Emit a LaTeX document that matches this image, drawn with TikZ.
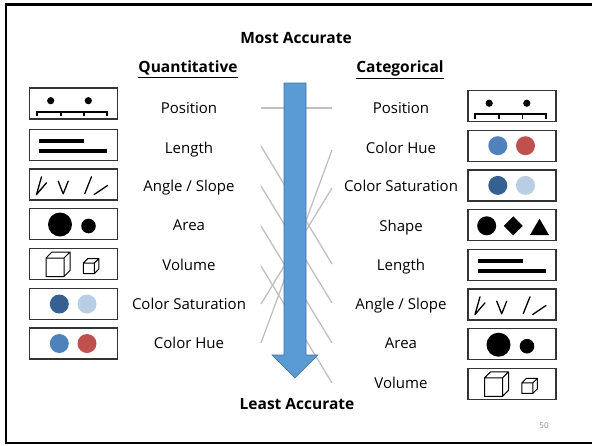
\documentclass[tikz,border=0pt]{standalone}
\usepackage{fontspec}
\setmainfont{Open Sans}
\usetikzlibrary{positioning}
\definecolor{arrowblue}{HTML}{5B9BD5}
\definecolor{arrowedge}{HTML}{41719C}
\definecolor{mapgray}{HTML}{BFBFBF}
\definecolor{huered}{HTML}{C0504D}
\definecolor{hueblue}{HTML}{4F81BD}
\definecolor{satdark}{HTML}{376092}
\definecolor{satlight}{HTML}{B9CDE5}

\begin{document}
\begin{tikzpicture}[x=1pt,y=-1pt,
  iconbox/.style={draw=black!80,line width=1.2pt,minimum width=88pt,minimum height=31pt,inner sep=0pt},
  lab/.style={font=\fontsize{15}{17}\selectfont,anchor=base,inner sep=0pt},
  head/.style={font=\bfseries\fontsize{15.5}{17}\selectfont,anchor=base,inner sep=0pt},
  map/.style={mapgray,line width=1.3pt},
  posicon/.pic={
    \fill (-22.8,-2.8) circle (3.6) (14.8,-2.8) circle (3.6);
    \draw[line width=1.8pt] (-36.8,12.5)--(-36.8,8.2)--(33.8,8.2)--(33.8,12.5);
    \draw[line width=1.8pt] (-12.8,8.2)--(-12.8,12.5) (10.5,8.2)--(10.5,12.5);},
  lenicon/.pic={
    \fill (-34.5,-5.7) rectangle (10.5,-1.7);
    \fill (-34.5,3.8) rectangle (33.8,7.8);},
  angicon/.pic={
    \draw[line width=1.3pt,line cap=round,line join=round]
      (-32,-7.7)--(-37,10)--(-27,-1.7)
      (-15.3,-3.3)--(-10.3,9.3)--(-5.3,-3.3)
      (11.3,9)--(18,-7.7)
      (20.7,10)--(34,1);},
  areaicon/.pic={
    \fill (-13.5,0.5) circle (12) (15,2) circle (7.3);},
  volicon/.pic={
    \draw[line width=1pt,line join=round]
      (-27.5,-6) rectangle (-9.5,12.5)
      (-27.5,-6)--(-21.5,-12)--(-3.5,-12)--(-9.5,-6)
      (-3.5,-12)--(-3.5,6.5)--(-9.5,12.5);
    \draw[line width=1pt,line join=round]
      (9.8,-1) rectangle (20.8,9.5)
      (9.8,-1)--(14.3,-5.5)--(25.3,-5.5)--(20.8,-1)
      (25.3,-5.5)--(25.3,5)--(20.8,9.5);},
  saticon/.pic={
    \fill[satdark] (-14.2,0) circle (9.5);
    \fill[satlight] (13.5,0) circle (9.5);},
  hueicon/.pic={
    \fill[hueblue] (-14.2,0) circle (9.5);
    \fill[huered] (13.5,0) circle (9.5);},
  shapeicon/.pic={
    \fill (-25.3,0.7) circle (9.5);
    \fill (1.3,-8.8)--(10.8,0.7)--(1.3,10.2)--(-8.2,0.7)--cycle;
    \fill (27.5,-6.5)--(37,10)--(18,10)--cycle;}]

\useasboundingbox (0,0) rectangle (592,445);
% slide frame
\draw[line width=2.4pt] (6,4.3) rectangle (596,442.7);

\node[head] (most) at (296,43) {Most Accurate};
\node[head] (quant) at (188,72.7) {\underline{Quantitative}};
\node[head] (categ) at (400,72.7) {\underline{Categorical}};
\node[head] (least) at (297,409) {Least Accurate};
\node[anchor=base,inner sep=0pt,font=\fontsize{8}{9}\selectfont,text=black!45] (pagenum) at (544,428.5) {50};

% quantitative column
\foreach \i/\y/\ly/\txt/\ic in {1/103.5/108/Position/posicon, 2/145/148/Length/lenicon,
    3/184.5/186/{Angle / Slope}/angicon, 4/224/225/Area/areaicon, 5/264/265/Volume/volicon,
    6/304/304/Color Saturation/saticon, 7/343.5/343/Color Hue/hueicon}{
  \node[iconbox] (qbox\i) at (73.5,\y) {};
  \pic at (qbox\i.center) {\ic};
  \node[lab] (qlab\i) at (189,\ly+5.3) {\txt};
}

% categorical column
\foreach \i/\y/\ly/\txt/\ic in {1/106/108/Position/posicon, 2/145.7/148/Color Hue/hueicon,
    3/185.4/186/Color Saturation/saticon, 4/225.1/226/Shape/shapeicon, 5/264.8/265/Length/lenicon,
    6/304.5/304/{Angle / Slope}/angicon, 7/344.2/343/Area/areaicon, 8/383.9/383/Volume/volicon}{
  \node[iconbox] (cbox\i) at (512,\y) {};
  \pic at (cbox\i.center) {\ic};
  \node[lab] (clab\i) at (401,\ly+5.3) {\txt};
}

% line ends next to the arrow
\coordinate (q1) at (261,108);
\coordinate (q2) at (261,146);
\coordinate (q3) at (261,186);
\coordinate (q4) at (261,226);
\coordinate (q5) at (261,266);
\coordinate (q6) at (261,304);
\coordinate (q7) at (261,343);
\coordinate (c1) at (332,108);
\coordinate (c2) at (332,150);
\coordinate (c3) at (332,188);
\coordinate (c5) at (332,264);
\coordinate (c6) at (332,303);
\coordinate (c7) at (332,343);
\coordinate (c8) at (332,383);

\draw[map] (q1)--(c1);
\draw[map] (q2)--(c5);
\draw[map] (q3)--(c6);
\draw[map] (q4)--(c7);
\draw[map] (q5)--(c8);
\draw[map] (q6)--(c3);
\draw[map] (q7)--(c2);

% accuracy arrow
\filldraw[fill=arrowblue,draw=arrowedge,line width=0.6pt]
  (284,83)--(306,83)--(306,355)--(318,355)--(295,378)--(272,355)--(284,355)--cycle;
\end{tikzpicture}
\end{document}
